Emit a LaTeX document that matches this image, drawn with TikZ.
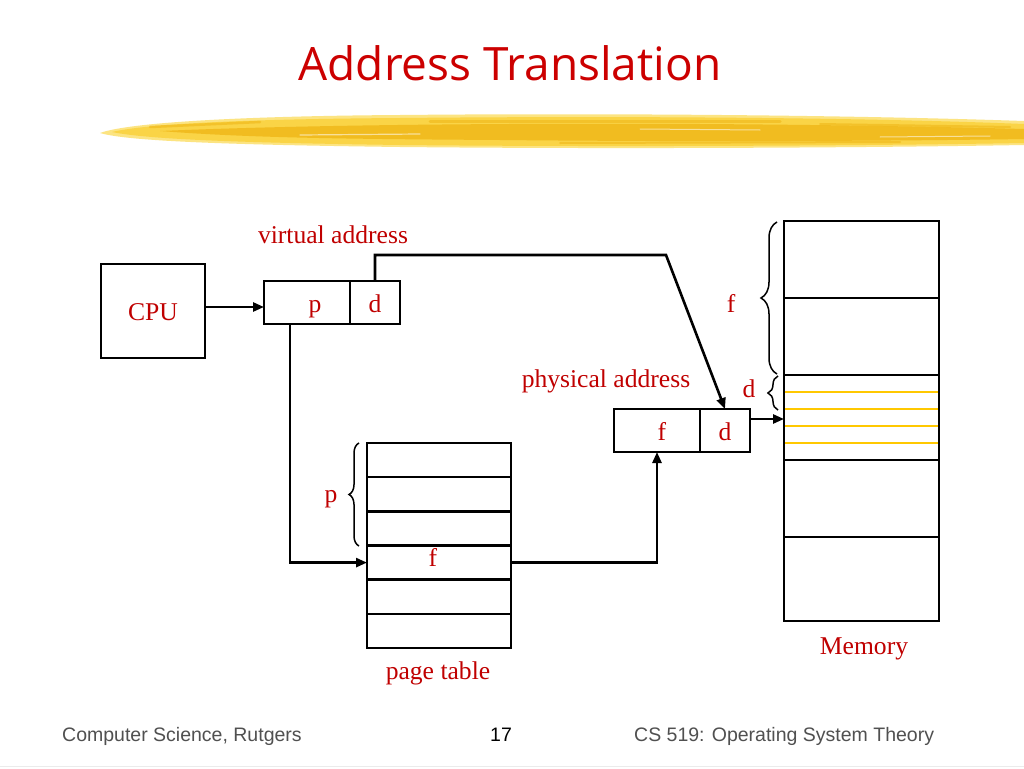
\documentclass[tikz,border=0pt]{standalone}
\usepackage{fontspec}
\setmainfont{Liberation Serif}
\newfontfamily\footfont{Liberation Sans}
\newfontfamily\titlefont{Open Sans}
\usetikzlibrary{arrows.meta,decorations.pathreplacing}
\definecolor{lab}{RGB}{192,0,0}
\definecolor{titlered}{RGB}{204,0,0}
\definecolor{brush}{RGB}{250,212,70}
\definecolor{brushdark}{RGB}{238,180,20}
\definecolor{brushlight}{RGB}{252,228,130}
\definecolor{memline}{RGB}{255,200,0}
\definecolor{foot}{RGB}{80,80,80}
\begin{document}
\begin{tikzpicture}[x=1pt,y=-1pt,
  box/.style={draw=black,line width=2.6pt,inner sep=0pt,outer sep=0pt,
    font=\fontsize{25.6}{28}\selectfont,text=lab,text height=19pt,text depth=0pt},
  lbl/.style={text=lab,font=\fontsize{25.6}{28}\selectfont,anchor=base,inner sep=0pt},
  arr/.style={line width=2.6pt,-{Triangle[length=11pt,width=9pt]}},
  brc/.style={line width=1.5pt,decorate,decoration={brace,amplitude=#1}},
  footstyle/.style={font=\footfont\fontsize{19.5}{22}\selectfont,inner sep=0pt},
  streak/.style={line cap=round,opacity=0.55},
  ]
\useasboundingbox (0,0) rectangle (1024,768);
\fill[white] (0,0) rectangle (1024,768);

% brush stroke
\fill[brushlight] (100,133) .. controls (130,122) and (250,116) .. (400,115)
  .. controls (600,113) and (850,115) .. (1024,121) -- (1024,145)
  .. controls (850,148) and (600,149) .. (400,147)
  .. controls (250,145) and (130,142) .. (100,133) -- cycle;
\fill[brush] (112,132) .. controls (150,123) and (260,119) .. (400,118)
  .. controls (600,116) and (850,117) .. (1024,124) -- (1024,143)
  .. controls (850,146) and (600,147) .. (400,145)
  .. controls (260,143) and (150,140) .. (112,132) -- cycle;
\fill[brushdark,opacity=0.75] (160,131) .. controls (300,125) and (500,123) .. (700,124)
  .. controls (850,125) and (950,127) .. (1024,129) -- (1024,139)
  .. controls (900,141) and (700,142) .. (500,140)
  .. controls (350,139) and (250,138) .. (160,131) -- cycle;
\draw[streak,brushdark,line width=2.5pt] (150,127) -- (260,122);
\draw[streak,brushdark,line width=3pt] (430,121) -- (780,121);
\draw[streak,brushdark,line width=2pt] (560,143) -- (900,142);
\draw[streak,brushdark,line width=2pt] (820,124) -- (1010,127);
\draw[streak,white,line width=1.2pt] (300,135) -- (420,134);
\draw[streak,white,line width=1pt] (640,129) -- (760,130);
\draw[streak,white,line width=1pt] (880,137) -- (990,136);

% title
\node[text=titlered,font=\titlefont\fontsize{46}{50}\selectfont,anchor=base,inner sep=0pt] (title) at (510,80) {Address Translation};

% CPU
\node[box,minimum width=104pt,minimum height=94pt,text height=18pt] (cpu) at (153,311) {CPU};

% virtual address
\node[box,minimum width=86pt,minimum height=43pt] (vp) at (307,302.5) {\hspace*{16pt}p};
\node[box,minimum width=50pt,minimum height=43pt] (vd) at (375,302.5) {d};
\node[lbl] (valab) at (333,243) {virtual address};

% physical address
\node[box,minimum width=86pt,minimum height=43pt] (pf) at (657,430.5) {\hspace*{10pt}f};
\node[box,minimum width=50pt,minimum height=43pt] (pd) at (725,430.5) {d};
\node[lbl] (palab) at (606,387) {physical address};

% page table
\foreach \i in {1,2,3,5,6}
  \node[box,minimum width=144pt,minimum height=34.17pt] (pt\i) at (439,{443+34.17*(\i-0.5)}) {};
\node[box,minimum width=144pt,minimum height=34.17pt,text height=8pt] (pt4) at (439,{443+34.17*3.5}) {f\hspace*{12pt}};
\node[lbl] (ptlab) at (438,679) {page table};

% memory
\node[box,minimum width=155pt,minimum height=77pt] (m1) at (861.5,259.5) {};
\node[box,minimum width=155pt,minimum height=77pt] (m2) at (861.5,336.5) {};
\node[box,minimum width=155pt,minimum height=85pt] (m3) at (861.5,417.5) {};
\node[box,minimum width=155pt,minimum height=77pt] (m4) at (861.5,498.5) {};
\node[box,minimum width=155pt,minimum height=84pt] (m5) at (861.5,579) {};
\foreach \yy in {392,409,426,443}
  \draw[memline,line width=2.4pt] ([xshift=1.3pt]m3.west |- 0,\yy) -- ([xshift=-1.3pt]m3.east |- 0,\yy);
\node[lbl] (memlab) at (864,654) {Memory};

% braces and labels
\draw[brc=16pt] (777,374) -- (777,222);
\node[lbl] (flab) at (731,312) {f};
\draw[brc=10pt] (778,410) -- (778,376);
\node[lbl] (dlab) at (749,397) {d};
\draw[brc=10pt] (359,546) -- (359,443);
\node[lbl] (plab) at (331,502) {p};

% connectors
\coordinate (k2) at (666,255);
\draw[arr] ([yshift=4pt]cpu.east) -- ([yshift=4pt]cpu.east -| vp.west);
\draw[arr] (vd.north) |- (k2) -- (pd.north);
\draw[arr] ([xshift=-17pt]vp.south) |- (pt4.west);
\draw[arr] (pt4.east) -| (pf.south);
\draw[arr] ([yshift=11.5pt]pd.east) -- ([yshift=11.5pt]pd.east -| m3.west);

% footer
\node[footstyle,text=foot,anchor=base west] (f1) at (62,741) {Computer Science, Rutgers};
\node[footstyle,text=black,anchor=base] (f2) at (501,741) {17};
\node[footstyle,text=foot,anchor=base west] (f3) at (634,741) {CS 519: Operating System Theory};
\draw[black!8,line width=1pt] (0,766) -- (1024,766);
\end{tikzpicture}
\end{document}
